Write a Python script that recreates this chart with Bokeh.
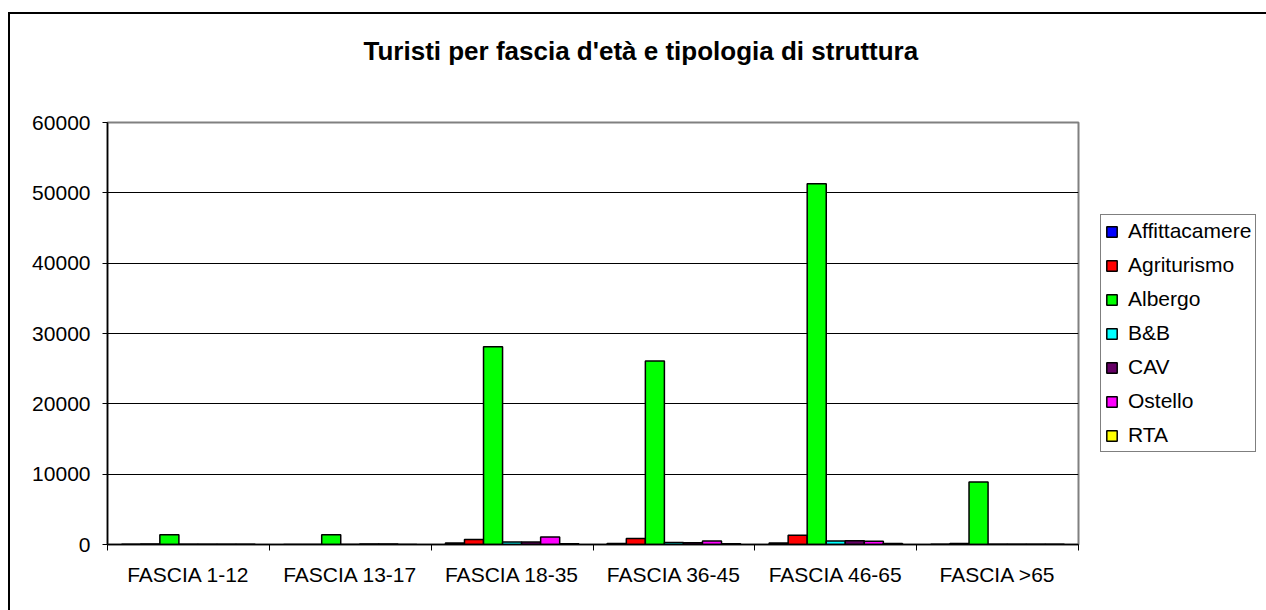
import numpy as np
from bokeh.plotting import figure
from bokeh.models import (ColumnDataSource, FixedTicker, Legend, LegendItem, Range1d, Title)
from bokeh.transform import dodge
from bokeh.embed import file_html
from bokeh.resources import INLINE

categories = ["FASCIA 1-12", "FASCIA 13-17", "FASCIA 18-35", "FASCIA 36-45", "FASCIA 46-65", "FASCIA >65"]
series = ["Affittacamere", "Agriturismo", "Albergo", "B&B", "CAV", "Ostello", "RTA"]
affittacamere = [30, 0, 200, 150, 200, 50]
agriturismo = [60, 0, 700, 850, 1300, 150]
albergo = [1400, 1400, 28100, 26100, 51300, 8900]
bb = [50, 10, 350, 300, 500, 50]
cav = [50, 60, 350, 250, 550, 50]
ostello = [50, 60, 1050, 500, 450, 50]
rta = [40, 0, 100, 100, 150, 50]
y_ticks = [0, 10000, 20000, 30000, 40000, 50000, 60000]
colors = ["#0000FF", "#FF0000", "#00FF00", "#00FFFF", "#660066", "#FF00FF", "#FFFF00"]
values = [affittacamere, agriturismo, albergo, bb, cav, ostello, rta]

FONT = "Liberation Sans"
centers = [i + 0.5 for i in range(len(categories))]
data = {"x": centers}
for name, vals in zip(series, values):
    data[name] = vals
source = ColumnDataSource(data)

p = figure(frame_width=971, frame_height=422, output_backend="svg", toolbar_location=None,
           x_range=Range1d(0, len(categories)), y_range=Range1d(0, 60000),
           min_border_left=97, min_border_right=188, min_border_top=108, min_border_bottom=66)
p.styles = {"border-left": "2px solid black", "border-top": "2px solid black",
            "margin-top": "12px", "margin-left": "8px"}

bw = 1 / 8.5
items = []
for j, (name, col) in enumerate(zip(series, colors)):
    off = (j - 3) * bw
    r = p.vbar(x=dodge("x", off, range=p.x_range), top=name, width=bw, bottom=0, source=source,
               fill_color=col, line_color="black", line_width=1.5)
    items.append(LegendItem(label=name, renderers=[r]))

p.background_fill_color = "white"
p.border_fill_color = "white"
p.outline_line_color = "#808080"
p.outline_line_width = 2

p.xgrid.visible = False
p.ygrid.ticker = FixedTicker(ticks=y_ticks)
p.ygrid.grid_line_color = "black"
p.ygrid.grid_line_width = 1
p.ygrid.grid_line_alpha = 1

p.yaxis.ticker = FixedTicker(ticks=y_ticks)
p.yaxis.axis_line_color = "black"
p.yaxis.axis_line_width = 1.5
p.yaxis.major_tick_out = 5
p.yaxis.major_tick_in = 0
p.yaxis.minor_tick_out = 0
p.yaxis.major_label_standoff = 12
p.yaxis.major_label_text_font = FONT
p.yaxis.major_label_text_font_size = "21px"
p.yaxis.major_label_text_color = "black"

p.xaxis.ticker = FixedTicker(ticks=centers, minor_ticks=list(range(len(categories) + 1)))
p.xaxis.major_label_overrides = {c: lab for c, lab in zip(centers, categories)}
p.xaxis.axis_line_color = "black"
p.xaxis.axis_line_width = 1.5
p.xaxis.major_tick_out = 0
p.xaxis.major_tick_in = 0
p.xaxis.minor_tick_out = 6
p.xaxis.minor_tick_in = 0
p.xaxis.minor_tick_line_color = "black"
p.xaxis.major_label_standoff = 12
p.xaxis.major_label_text_font = FONT
p.xaxis.major_label_text_font_size = "21px"
p.xaxis.major_label_text_color = "black"

# real title as the plot title; a white spacer placed between it and the frame
p.title = Title(text="Turisti per fascia d'età e tipologia di struttura", align="left",
                text_font=FONT, text_font_size="26px", text_font_style="bold",
                text_color="black", standoff=0, offset=256, vertical_align="bottom")
spacer = Title(text=".", text_font=FONT, text_font_size="10px", text_color="white", standoff=47)
p.add_layout(spacer, "above")

legend = Legend(items=items, location="left")
legend.label_text_font = FONT
legend.label_text_font_size = "21px"
legend.label_text_color = "black"
legend.glyph_width = 13
legend.glyph_height = 13
legend.label_standoff = 10
legend.spacing = 10
legend.padding = 4
legend.margin = 22
legend.border_line_color = "black"
legend.border_line_width = 1
legend.background_fill_alpha = 1
p.add_layout(legend, "right")

open("out.html", "w").write(file_html(p, INLINE))
